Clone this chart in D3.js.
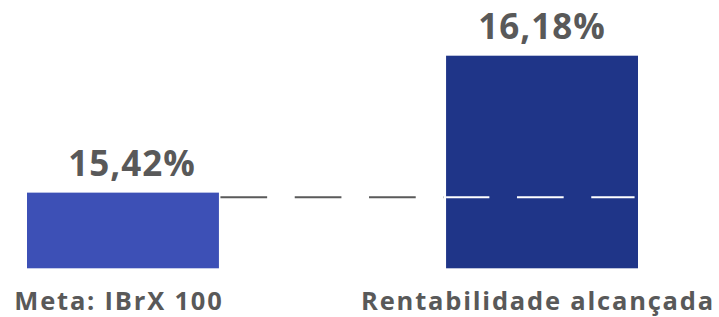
<!DOCTYPE html>
<html>
<head>
<meta charset="utf-8">
<script src="https://cdn.jsdelivr.net/npm/d3@7"></script>
<style>
  html, body { margin: 0; padding: 0; background: #fff; }
  svg { display: block; font-family: "Open Sans", Lato, sans-serif; }
</style>
</head>
<body>
<div id="root"></div>
<script>
const WIDTH = 719;
const HEIGHT = 317;

const categories = ['Meta: IBrX 100', 'Rentabilidade alcançada'];
const values = [15.42, 16.18];
const valueLabels = ['15,42%', '16,18%'];
const barColors = ['#3d50b6', '#1f3588'];
const baseValue = 15.0;
const targetValue = 15.42;

const x = d3.scaleBand()
    .domain(categories)
    .range([27, 638])
    .paddingInner(0.542)
    .paddingOuter(0);

const y = d3.scaleLinear()
    .domain([baseValue, d3.max(values)])
    .range([268.3, 55.7]);

const svg = d3.select('#root').append('svg')
    .attr('width', WIDTH)
    .attr('height', HEIGHT);

const data = categories.map((c, i) => ({ cat: c, value: values[i], label: valueLabels[i], color: barColors[i] }));

svg.selectAll('.bar')
    .data(data)
  .enter().append('rect')
    .attr('class', 'bar')
    .attr('x', d => x(d.cat))
    .attr('y', d => y(d.value))
    .attr('width', x.bandwidth())
    .attr('height', d => y(baseValue) - y(d.value))
    .attr('fill', d => d.color);

// dashed target line, grey on the background and white across the second bar
const lineY = y(targetValue) + 4.6;
const lineStart = x(categories[0]) + x.bandwidth() + 1.5;
const barStart = x(categories[1]);
const lineEnd = x(categories[1]) + x.bandwidth();

svg.append('line')
    .attr('x1', lineStart)
    .attr('x2', barStart - 2.4)
    .attr('y1', lineY)
    .attr('y2', lineY)
    .attr('stroke', '#5a5a5a')
    .attr('stroke-width', 2.2)
    .attr('stroke-dasharray', '46.7 27.6');

svg.append('line')
    .attr('x1', barStart)
    .attr('x2', lineEnd)
    .attr('y1', lineY)
    .attr('y2', lineY)
    .attr('stroke', '#fff')
    .attr('stroke-width', 2.2)
    .attr('stroke-dasharray', '43.3 27.6 46.7 27.6');

svg.selectAll('.value')
    .data(data)
  .enter().append('text')
    .attr('class', 'value')
    .attr('x', d => x(d.cat) + x.bandwidth() / 2)
    .attr('dx', (d, i) => i === 0 ? 9 : 0)
    .attr('y', d => y(d.value) - 17)
    .attr('text-anchor', 'middle')
    .attr('fill', '#595959')
    .style('font-size', '35px')
    .style('font-weight', 'bold')
    .style('letter-spacing', '1px')
    .text(d => d.label);

svg.selectAll('.cat')
    .data(data)
  .enter().append('text')
    .attr('class', 'cat')
    .attr('x', d => x(d.cat) + x.bandwidth() / 2 - 4)
    .attr('y', 309.5)
    .attr('text-anchor', 'middle')
    .attr('fill', '#595959')
    .style('font-size', '25.5px')
    .style('font-weight', 'bold')
    .style('letter-spacing', '1.8px')
    .text(d => d.cat);
</script>
</body>
</html>
